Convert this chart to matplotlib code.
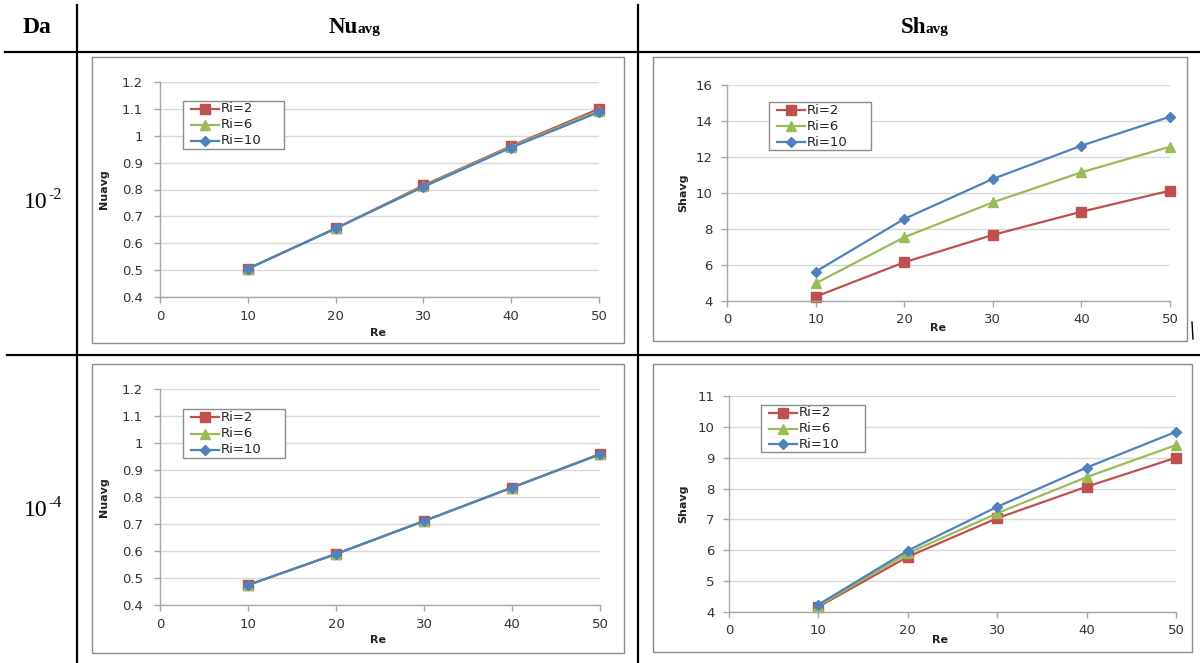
import matplotlib
matplotlib.use("Agg")
import matplotlib.pyplot as plt
from matplotlib.patches import Rectangle
from matplotlib.lines import Line2D

W, H = 1200, 663

re_vals = [10, 20, 30, 40, 50]
series_names = ["Ri=2", "Ri=6", "Ri=10"]

nu_da2 = {"Ri=2": [0.505, 0.655, 0.815, 0.962, 1.100],
          "Ri=6": [0.505, 0.655, 0.812, 0.959, 1.093],
          "Ri=10": [0.505, 0.655, 0.810, 0.956, 1.088]}
nu_da4 = {"Ri=2": [0.474, 0.589, 0.711, 0.835, 0.959],
          "Ri=6": [0.474, 0.589, 0.711, 0.835, 0.959],
          "Ri=10": [0.474, 0.589, 0.711, 0.835, 0.958]}
sh_da2 = {"Ri=2": [4.24, 6.15, 7.67, 8.96, 10.13],
          "Ri=6": [4.98, 7.54, 9.48, 11.15, 12.57],
          "Ri=10": [5.63, 8.56, 10.78, 12.63, 14.24]}
sh_da4 = {"Ri=2": [4.17, 5.79, 7.04, 8.06, 9.00],
          "Ri=6": [4.20, 5.90, 7.20, 8.37, 9.41],
          "Ri=10": [4.24, 5.99, 7.41, 8.68, 9.84]}

nu_ticks = [0.4, 0.5, 0.6, 0.7, 0.8, 0.9, 1.0, 1.1, 1.2]
nu_ticklabels = ["0.4", "0.5", "0.6", "0.7", "0.8", "0.9", "1", "1.1", "1.2"]
sh2_ticks = [4, 6, 8, 10, 12, 14, 16]
sh4_ticks = [4, 5, 6, 7, 8, 9, 10, 11]
x_ticks = [0, 10, 20, 30, 40, 50]

header_labels = ["Da", "Nu", "Sh"]
da_labels = ["-2", "-4"]

colors = {"Ri=2": "#C0504D", "Ri=6": "#9BBB59", "Ri=10": "#4F81BD"}
markers = {"Ri=2": ("s", 6.5), "Ri=6": ("^", 6.8), "Ri=10": ("D", 5.0)}

fig = plt.figure(figsize=(W / 100, H / 100), dpi=100)
fig.patch.set_facecolor("white")


def fx(x):
    return x / W


def fy(y):
    return 1 - y / H


def add_line(x0, y0, x1, y1, lw=1.6, color="black"):
    fig.add_artist(Line2D([fx(x0), fx(x1)], [fy(y0), fy(y1)], lw=lw,
                          color=color, transform=fig.transFigure))


# table lines
add_line(77, 5, 77, 663)
add_line(638, 5, 638, 663)
add_line(5, 52, 1200, 52)
add_line(7, 355, 1200, 355)
add_line(1192, 322, 1193, 339, lw=1.0)

serif = "Liberation Serif"
# headers
fig.text(fx(37), fy(33), header_labels[0], family=serif, weight="bold",
         fontsize=17, ha="center", va="baseline")
fig.text(fx(358), fy(33), header_labels[1], family=serif, weight="bold",
         fontsize=16.5, ha="right", va="baseline")
fig.text(fx(358), fy(33), "avg", family=serif, weight="bold",
         fontsize=11, ha="left", va="baseline")
fig.text(fx(926), fy(33), header_labels[2], family=serif, weight="bold",
         fontsize=16.5, ha="right", va="baseline")
fig.text(fx(926), fy(33), "avg", family=serif, weight="bold",
         fontsize=11, ha="left", va="baseline")

# row labels
for yb, lab in zip([208, 516], da_labels):
    fig.text(fx(48), fy(yb), "10", family=serif, fontsize=17,
             ha="right", va="baseline")
    fig.text(fx(48), fy(yb - 9), lab, family=serif, fontsize=11.5,
             ha="left", va="baseline")

# chart boxes
boxes = [(92, 57, 624, 343), (653, 57, 1187, 341),
         (92, 364, 624, 653), (653, 364, 1192, 652)]
for (x0, y0, x1, y1) in boxes:
    fig.add_artist(Rectangle((fx(x0), fy(y1)), fx(x1 - x0), (y1 - y0) / H,
                             fill=False, edgecolor="#8C8C8C", lw=1.0,
                             transform=fig.transFigure))

panels = [
    dict(area=(160, 82, 599, 297), data=nu_da2, ticks=nu_ticks,
         tlabels=nu_ticklabels, ylim=(0.4, 1.2), ylabel="Nuavg",
         ylx=104, xlab=(378, 333), leg=(183, 101, 284, 149), ypad=8.5),
    dict(area=(727, 85, 1170, 301), data=sh_da2, ticks=sh2_ticks,
         tlabels=[str(t) for t in sh2_ticks], ylim=(4, 16), ylabel="Shavg",
         ylx=683, xlab=(938, 328), leg=(769, 102, 871, 150), ypad=6.5),
    dict(area=(160, 389, 600, 605), data=nu_da4, ticks=nu_ticks,
         tlabels=nu_ticklabels, ylim=(0.4, 1.2), ylabel="Nuavg",
         ylx=104, xlab=(378, 640), leg=(183, 409, 285, 458), ypad=8.5),
    dict(area=(729, 396, 1176, 612), data=sh_da4, ticks=sh4_ticks,
         tlabels=[str(t) for t in sh4_ticks], ylim=(4, 11), ylabel="Shavg",
         ylx=683, xlab=(940, 640), leg=(761, 405, 865, 452), ypad=6.5),
]

sans = "DejaVu Sans"
for p in panels:
    x0, y0, x1, y1 = p["area"]
    ax = fig.add_axes([fx(x0), fy(y1), fx(x1 - x0), (y1 - y0) / H])
    ax.set_xlim(0, 50)
    ax.set_ylim(*p["ylim"])
    ax.set_xticks(x_ticks)
    ax.set_xticklabels([str(t) for t in x_ticks])
    ax.set_yticks(p["ticks"])
    ax.set_yticklabels(p["tlabels"])
    ax.grid(axis="y", color="#D9D9D9", lw=1.0)
    ax.set_axisbelow(True)
    for s in ["top", "right"]:
        ax.spines[s].set_visible(False)
    for s in ["left", "bottom"]:
        ax.spines[s].set_color("#A6A6A6")
        ax.spines[s].set_linewidth(1.0)
    ax.tick_params(axis="both", colors="#A6A6A6", length=4, width=1.0,
                   labelcolor="#333333", labelsize=9.5)
    ax.tick_params(axis="x", pad=5)
    ax.tick_params(axis="y", pad=p["ypad"])
    for lab in ax.get_xticklabels() + ax.get_yticklabels():
        lab.set_family(sans)
    for name in series_names:
        m, ms = markers[name]
        ax.plot(re_vals, p["data"][name], color=colors[name], lw=1.6,
                marker=m, markersize=ms, clip_on=False, label=name)
    # legend
    lx0, ly0, lx1, ly1 = p["leg"]
    fig.add_artist(Rectangle((fx(lx0), fy(ly1)), fx(lx1 - lx0),
                             (ly1 - ly0) / H, facecolor="white",
                             edgecolor="#8C8C8C", lw=1.0,
                             transform=fig.transFigure, zorder=5))
    rowh = (ly1 - ly0) / 3.0
    for i, name in enumerate(series_names):
        yy = ly0 + rowh * (i + 0.5)
        m, ms = markers[name]
        fig.add_artist(Line2D([fx(lx0 + 8), fx(lx0 + 36)], [fy(yy), fy(yy)],
                              color=colors[name], lw=1.6,
                              transform=fig.transFigure, zorder=6))
        fig.add_artist(Line2D([fx(lx0 + 22)], [fy(yy)], color=colors[name],
                              marker=m, markersize=ms, lw=0,
                              transform=fig.transFigure, zorder=7))
        fig.text(fx(lx0 + 38), fy(yy), name, family=sans, fontsize=9.5,
                 color="#222222", va="center", ha="left", zorder=8)
    # labels
    fig.text(fx(p["xlab"][0]), fy(p["xlab"][1]), "Re", family=sans,
             weight="bold", fontsize=8, ha="center", va="center",
             color="#222222")
    fig.text(fx(p["ylx"]), fy((y0 + y1) / 2), p["ylabel"], family=sans,
             weight="bold", fontsize=8, rotation=90, ha="center",
             va="center", color="#222222")

fig.savefig("out.png", dpi=100, facecolor="white")
